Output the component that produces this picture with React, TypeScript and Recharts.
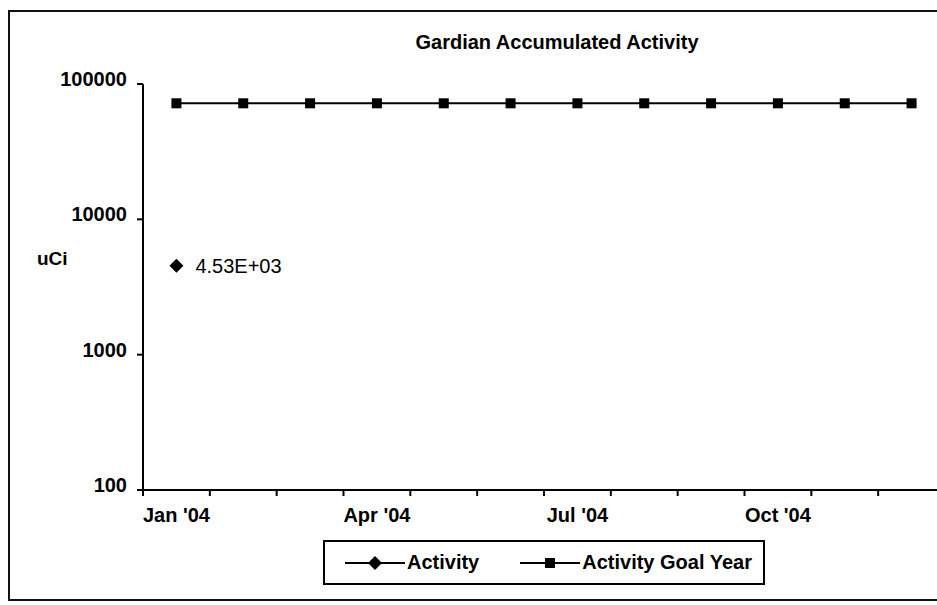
import { LineChart, Line, XAxis, YAxis, Legend, LabelList } from 'recharts'

const months = ['Jan', 'Feb', 'Mar', 'Apr', 'May', 'Jun', 'Jul', 'Aug', 'Sep', 'Oct', 'Nov', 'Dec']
const tickLabels = ["Jan '04", '', '', "Apr '04", '', '', "Jul '04", '', '', "Oct '04", '', '']
const activity: (number | null)[] = [4530, null, null, null, null, null, null, null, null, null, null, null]
const goalYear = [72000, 72000, 72000, 72000, 72000, 72000, 72000, 72000, 72000, 72000, 72000, 72000]
const yTicks = [100, 1000, 10000, 100000]

const FONT = '"Liberation Sans", Arial, sans-serif'
const W = 960
const H = 605
const margin = { top: 84, right: 15, bottom: 30, left: 63 }
const Y_AXIS_W = 80
const PLOT_W = W - margin.left - margin.right - Y_AXIS_W
const BAND = PLOT_W / months.length

const data = months.map((m, i) => ({
  x: i + 0.5,
  month: m,
  activity: activity[i],
  goal: goalYear[i],
}))

const sci = (v: any) => {
  const [mant, exp] = Number(v).toExponential(2).toUpperCase().split('E')
  const sign = exp[0] === '-' ? '-' : '+'
  const digits = exp.replace(/[+-]/, '').padStart(2, '0')
  return `${mant}E${sign}${digits}`
}

const XTick = (props: any) => {
  const { x, y, payload } = props
  const label = tickLabels[payload.value]
  if (!label) return <g />
  return (
    <text x={x + BAND / 2} y={y + 10} dy="0.71em" textAnchor="middle" fontFamily={FONT} fontSize={20} fontWeight="bold" fill="#000">
      {label}
    </text>
  )
}

const YTick = (props: any) => {
  const { x, y, payload } = props
  return (
    <text x={x} y={y - 5} dy="0.355em" textAnchor="end" fontFamily={FONT} fontSize={20} fontWeight="bold" fill="#000">
      {String(payload.value)}
    </text>
  )
}

const SquareDot = (props: any) => {
  const { cx, cy } = props
  if (cx == null || cy == null) return <g />
  return <rect x={cx - 5} y={cy - 5} width={10} height={10} fill="#000" />
}

const DiamondDot = (props: any) => {
  const { cx, cy, value } = props
  if (cx == null || cy == null || value == null) return <g />
  return <polygon points={`${cx},${cy - 7} ${cx + 7},${cy} ${cx},${cy + 7} ${cx - 7},${cy}`} fill="#000" />
}

const LegendBox = () => (
  <div
    style={{
      boxSizing: 'border-box',
      width: 442,
      height: 45,
      border: '2px solid #000',
      background: '#fff',
      display: 'flex',
      alignItems: 'center',
      paddingLeft: 20,
      fontFamily: FONT,
      fontSize: 20,
      fontWeight: 'bold',
      color: '#000',
    }}
  >
    <svg width={62} height={16}>
      <line x1={0} y1={8} x2={60} y2={8} stroke="#000" strokeWidth={2} />
      <polygon points="30,1 37,8 30,15 23,8" fill="#000" />
    </svg>
    <span>Activity</span>
    <svg width={62} height={16} style={{ marginLeft: 41 }}>
      <line x1={0} y1={8} x2={60} y2={8} stroke="#000" strokeWidth={2} />
      <rect x={25} y={3} width={10} height={10} fill="#000" />
    </svg>
    <span>Activity Goal Year</span>
  </div>
)

export default function App() {
  return (
    <div style={{ position: 'fixed', left: 0, top: 0, width: 937, height: 605, overflow: 'hidden', background: '#fff' }}>
      <div
        style={{
          position: 'absolute',
          left: 8,
          top: 10,
          width: 1000,
          height: 591,
          boxSizing: 'border-box',
          border: '2px solid #111',
        }}
      />
      <div
        style={{
          position: 'absolute',
          left: 0,
          top: 32,
          width: 1114,
          textAlign: 'center',
          fontFamily: FONT,
          fontSize: 20,
          lineHeight: '20px',
          fontWeight: 'bold',
          color: '#000',
        }}
      >
        Gardian Accumulated Activity
      </div>
      <div
        style={{
          position: 'absolute',
          left: 37,
          top: 249,
          fontFamily: FONT,
          fontSize: 19,
          lineHeight: '20px',
          fontWeight: 'bold',
          color: '#000',
        }}
      >
        uCi
      </div>
      <div style={{ position: 'absolute', left: 0, top: 0 }}>
        <LineChart width={W} height={H} data={data} margin={margin}>
          <XAxis
            type="number"
            dataKey="x"
            domain={[0, 12]}
            ticks={[0, 1, 2, 3, 4, 5, 6, 7, 8, 9, 10, 11, 12]}
            interval={0}
            height={40}
            tick={<XTick />}
            tickSize={6}
            axisLine={{ stroke: '#000', strokeWidth: 2 }}
            tickLine={{ stroke: '#000', strokeWidth: 2 }}
          />
          <YAxis
            type="number"
            scale="log"
            domain={[100, 100000]}
            ticks={yTicks}
            interval={0}
            allowDataOverflow
            width={Y_AXIS_W}
            tick={<YTick />}
            tickSize={6}
            tickMargin={10}
            axisLine={{ stroke: '#000', strokeWidth: 2 }}
            tickLine={{ stroke: '#000', strokeWidth: 2 }}
          />
          <Legend
            content={<LegendBox />}
            wrapperStyle={{ position: 'absolute', left: 323, top: 540, width: 442, height: 45 }}
          />
          <Line
            name="Activity"
            dataKey="activity"
            stroke="#000"
            strokeWidth={2}
            dot={<DiamondDot />}
            activeDot={false}
            isAnimationActive={false}
          >
            <LabelList dataKey="activity" position="right" offset={19} formatter={sci} fontFamily={FONT} fontSize={20} fill="#000" />
          </Line>
          <Line
            name="Activity Goal Year"
            dataKey="goal"
            stroke="#000"
            strokeWidth={2}
            dot={<SquareDot />}
            activeDot={false}
            isAnimationActive={false}
          />
        </LineChart>
      </div>
    </div>
  )
}
